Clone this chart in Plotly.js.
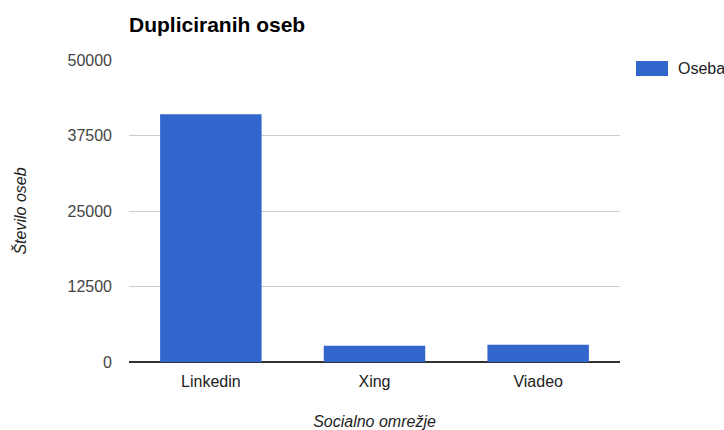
<!DOCTYPE html>
<html>
<head>
<meta charset="utf-8">
<script src="https://cdn.plot.ly/plotly-3.0.1.min.js"></script>
<style>html,body{margin:0;padding:0;background:#fff;}#chart{width:724px;height:430px;}</style>
</head>
<body>
<div id="chart"></div>
<script>
const categories = ["Linkedin", "Xing", "Viadeo"];
const seriesName = "Oseba";
const values = [41000, 2700, 2850];
const yTickVals = [0, 12500, 25000, 37500, 50000];
const yTickText = ["0", "12500", "25000", "37500", "50000"];

const FONT = "Liberation Sans, Arial, sans-serif";
const BAR_COLOR = "#3366cc";

const data = [{
  type: "bar",
  x: categories,
  y: values,
  name: seriesName,
  marker: {color: BAR_COLOR, line: {width: 0}},
  hoverinfo: "none",
  showlegend: false
}];

// legend drawn as swatch + label in paper coordinates (plot: x 129..620, y 60..362)
const PW = 491, PH = 302;
const px = v => (v - 129) / PW;
const py = v => (362 - v) / PH;

const layout = {
  width: 724, height: 430,
  margin: {l: 129, r: 104, t: 60, b: 68, pad: 0, autoexpand: false},
  paper_bgcolor: "#fff", plot_bgcolor: "#fff",
  font: {family: FONT, size: 16, color: "#444"},
  bargap: 0.38,
  showlegend: false,
  title: {
    text: "<b>Dupliciranih oseb</b>",
    font: {family: FONT, size: 21, color: "#000"},
    xref: "paper", x: 0, xanchor: "left",
    yref: "container", y: 1 - 25/430, yanchor: "middle"
  },
  xaxis: {
    showgrid: false, showline: false, zeroline: false,
    ticks: "", ticklabelstandoff: 8,
    tickfont: {family: FONT, size: 16, color: "#222"},
    title: {text: "<i>Socialno omrežje</i>", font: {family: FONT, size: 16, color: "#222"}, standoff: 26},
    automargin: false
  },
  yaxis: {
    range: [0, 50000],
    tickvals: yTickVals, ticktext: yTickText,
    showgrid: true, gridcolor: "#cccccc", gridwidth: 1,
    zeroline: true, zerolinecolor: "#333", zerolinewidth: 1.5,
    showline: false, ticks: "", ticklabelstandoff: 16,
    tickfont: {family: FONT, size: 16, color: "#444"},
    title: {text: "<i>Število oseb</i>", font: {family: FONT, size: 16, color: "#222"}, standoff: 36},
    automargin: false
  },
  shapes: [{
    type: "rect", xref: "paper", yref: "paper",
    x0: px(636), x1: px(668), y0: py(76), y1: py(61),
    fillcolor: BAR_COLOR, line: {width: 0}
  }],
  annotations: [{
    text: seriesName, xref: "paper", yref: "paper",
    x: px(676), y: py(68.5), xanchor: "left", yanchor: "middle",
    showarrow: false, font: {family: FONT, size: 16, color: "#222"}
  }]
};

Plotly.newPlot("chart", data, layout, {staticPlot: true, displayModeBar: false});
</script>
</body>
</html>
